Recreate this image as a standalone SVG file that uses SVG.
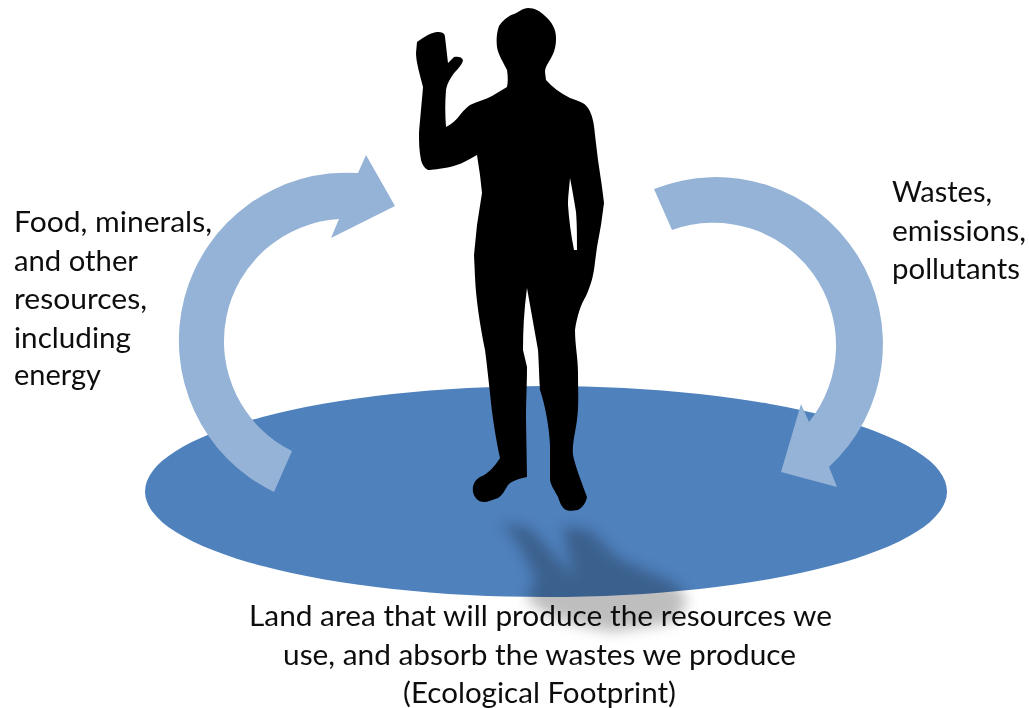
<svg xmlns="http://www.w3.org/2000/svg" width="1029" height="708" viewBox="0 0 1029 708">
<style>
.t{font-family:"Lato","Open Sans","Liberation Sans",sans-serif;font-size:29px;fill:#111}
.a{fill:#95b3d7}
</style>
<defs>
<filter id="b" x="-30%" y="-30%" width="160%" height="160%"><feGaussianBlur stdDeviation="7"/></filter>
<filter id="s" x="-10%" y="-10%" width="120%" height="120%"><feGaussianBlur stdDeviation="0.6"/></filter>
<filter id="u" x="-5%" y="-5%" width="110%" height="110%"><feGaussianBlur stdDeviation="0.35"/></filter>
</defs>
<rect width="1029" height="708" fill="#fff"/>
<g id="footprint">
<ellipse cx="546" cy="491.500" rx="401" ry="105.500" fill="#4f81bd"/>
</g>
<g id="shadow">
<path d="M500 522L530 528L552 552L574 578L562 526L590 530L618 558L676 584L688 600L676 622L612 632L556 620L526 600L536 578L516 540Z" fill="#000" opacity=".25" filter="url(#b)"/>
</g>
<g id="person">
<path filter="url(#s)" fill-rule="evenodd" d="M528 8C535 8 540 11 545 16C552 22 556 29 556 38C556 45 555 49 553 54C550 61 545 66 545 72L546 80C552 87 560 93 570 98C578 101 584 102 588 108C592 114 594 122 595 135L598 160L602 187L604 203L601 225L597 247L595 262C594 272 592 283 586 296C581 304 577 316 575 330C575 345 578 358 578 373C578 390 579 405 577 420C575 434 572 445 573 455C575 465 580 478 587 497C586 503 582 508 578 510C572 511 568 511 566 510C562 508 560 503 558 497C555 491 551 486 550 480L550 445C549 425 545 405 540 390C539 375 539 365 538 350L527 288C524 310 523 330 523 350L527 367C527 385 526 400 526 420L527 477C518 479 512 481 508 485C505 490 502 496 498 498C492 500 488 502 484 502C478 502 474 497 473 492C472 485 475 480 480 477C488 474 495 466 500 458C496 440 492 415 490 393C488 375 487 365 485 350C480 325 476 300 475 277L474 255L477 225L482 193L480 175L477 155C470 159 460 165 450 167C440 169 432 170 428 170C424 168 422 164 421 160C419 150 419 142 419 133C420 120 422 100 423 87C420 75 416 62 416 53L417 42C424 37 430 33 437 32C442 32 445 33 445 37L448 63L454 57C458 56 462 57 463 60C462 66 456 70 452 76C449 81 447 84 446 90C445 102 445 115 446 127C452 124 457 119 460 115C464 110 467 107 470 105C478 101 485 100 492 96L507 87C508 82 508 76 507 70C503 62 498 54 497 47C496 38 497 32 499 26C503 20 508 16 514 14C519 12 523 8 528 8ZM570 178C569 190 568 197 568 205C569 220 571 235 574 250L577 250C577 235 577 225 576 212C574 200 572 188 570 178Z"/>
</g>
<g id="connectors">
<path class="a" d="M274 492A168 168 0 0 1 358 173L366 155L395 206L331 238L339 219A122.500 122.500 0 0 0 292 451Z"/>
<path class="a" d="M654 189A167 167 0 0 1 829 467L837 487L781 472L801 404L809 422A122.500 122.500 0 0 0 672 230Z"/>
</g>
<g id="labels" filter="url(#u)">
<text class="t" x="14" y="232" textLength="198" lengthAdjust="spacingAndGlyphs">Food, minerals,</text>
<text class="t" x="14" y="271" textLength="124" lengthAdjust="spacingAndGlyphs">and other</text>
<text class="t" x="14" y="309" textLength="133" lengthAdjust="spacingAndGlyphs">resources,</text>
<text class="t" x="14" y="348" textLength="117" lengthAdjust="spacingAndGlyphs">including</text>
<text class="t" x="14" y="385" textLength="87" lengthAdjust="spacingAndGlyphs">energy</text>
<text class="t" x="892" y="202" textLength="100" lengthAdjust="spacingAndGlyphs">Wastes,</text>
<text class="t" x="892" y="241" textLength="134" lengthAdjust="spacingAndGlyphs">emissions,</text>
<text class="t" x="892" y="279" textLength="128" lengthAdjust="spacingAndGlyphs">pollutants</text>
<text class="t" x="249" y="626" textLength="583" lengthAdjust="spacingAndGlyphs">Land area that will produce the resources we</text>
<text class="t" x="283" y="665" textLength="513" lengthAdjust="spacingAndGlyphs">use, and absorb the wastes we produce</text>
<text class="t" x="403" y="703" textLength="273" lengthAdjust="spacingAndGlyphs">(Ecological Footprint)</text>
</g>
</svg>
